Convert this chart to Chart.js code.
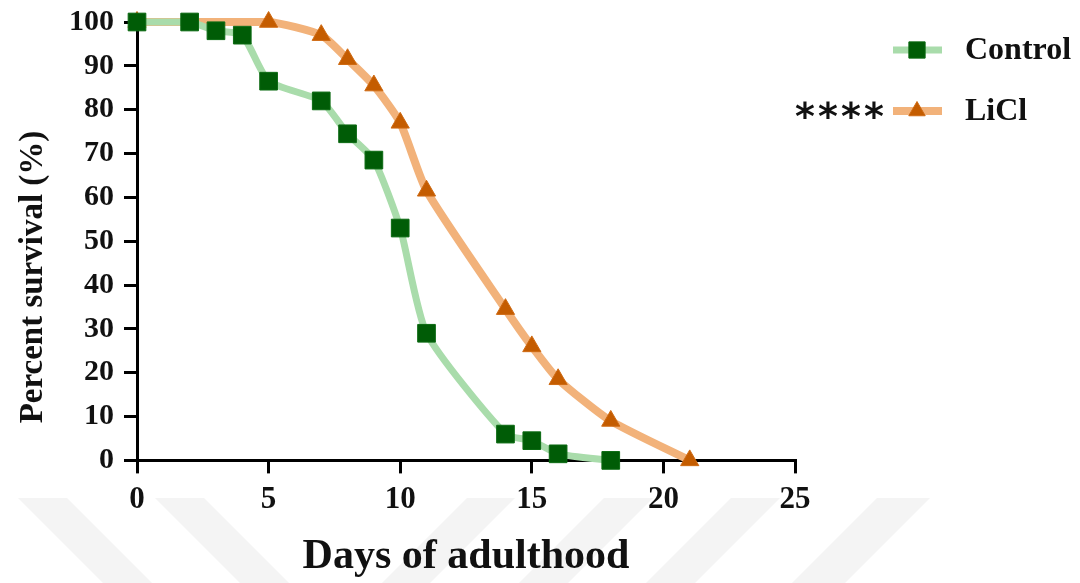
<!DOCTYPE html>
<html>
<head>
<meta charset="utf-8">
<script src="https://cdn.jsdelivr.net/npm/chart.js@4/dist/chart.umd.min.js"></script>
<style>
  html, body { margin: 0; padding: 0; background: #fff; }
  #wrap { width: 1080px; height: 583px; }
</style>
</head>
<body>
<div id="wrap"><canvas id="survival"></canvas></div>
<script>
// survival curves, days of adulthood vs percent alive
const controlDays = [0, 2, 3, 4, 5, 7, 8, 9, 10, 11, 14, 15, 16, 18];
const controlSurvival = [100, 100, 98, 97, 86.5, 82, 74.5, 68.5, 53, 29, 6, 4.5, 1.5, 0];

const liclDays = [0, 5, 7, 8, 9, 10, 11, 14, 15, 16, 18, 21];
const liclSurvival = [100, 100, 97, 91.5, 85.5, 77, 61.5, 34.5, 26, 18.5, 9, 0];

const xTicks = [0, 5, 10, 15, 20, 25];
const yTicks = [0, 10, 20, 30, 40, 50, 60, 70, 80, 90, 100];

const seriesNames = ["Control", "LiCl"];
const significance = "****";
const yTitle = "Percent survival (%)";

const toPoints = (xs, ys) => xs.map((x, i) => ({ x: x, y: ys[i] }));

const serif = "'Liberation Serif', 'Times New Roman', serif";

// faint grey stripes along the bottom edge
const backdrop = {
  id: "backdrop",
  beforeDraw(chart) {
    const ctx = chart.ctx;
    ctx.save();
    ctx.fillStyle = "#fff";
    ctx.fillRect(0, 0, chart.width, chart.height);
    ctx.fillStyle = "#f4f4f4";
    const top = 498, drop = chart.height - top;
    // [left, right] at the top edge, direction +1 leans right, -1 leans left
    const stripes = [
      [18, 67, 1], [155, 204, 1],
      [467, 515, -1], [604, 653, -1], [731, 780, -1], [877, 930, -1]
    ];
    stripes.forEach(s => {
      const shift = s[2] * drop;
      ctx.beginPath();
      ctx.moveTo(s[0], top);
      ctx.lineTo(s[1], top);
      ctx.lineTo(s[1] + shift, chart.height);
      ctx.lineTo(s[0] + shift, chart.height);
      ctx.closePath();
      ctx.fill();
    });
    ctx.restore();
  }
};

// y title sits a little below the middle of the axis
const sideTitle = {
  id: "sideTitle",
  afterDraw(chart) {
    const ctx = chart.ctx;
    ctx.save();
    ctx.translate(33, 277);
    ctx.rotate(-Math.PI / 2);
    ctx.font = "bold 33px " + serif;
    ctx.fillStyle = "#111";
    ctx.textAlign = "center";
    ctx.textBaseline = "middle";
    ctx.fillText(yTitle, 0, 0);
    ctx.restore();
  }
};

// legend on the right with the significance stars
const sideLegend = {
  id: "sideLegend",
  afterDraw(chart) {
    const ctx = chart.ctx;
    const rows = [50, 111];
    ctx.save();
    chart.data.datasets.forEach((ds, i) => {
      const y = rows[i];
      ctx.strokeStyle = ds.borderColor;
      ctx.lineWidth = ds.borderWidth;
      ctx.beginPath();
      ctx.moveTo(893, y);
      ctx.lineTo(942, y);
      ctx.stroke();
      ctx.fillStyle = ds.pointBackgroundColor;
      ctx.strokeStyle = ds.pointBorderColor;
      ctx.lineWidth = 1;
      Chart.helpers.drawPoint(ctx, {
        pointStyle: ds.pointStyle,
        radius: ds.pointRadius - 1,
        borderWidth: 1,
        rotation: 0
      }, 917, y);
      ctx.fillStyle = "#111";
      ctx.font = "bold 32px " + serif;
      ctx.textBaseline = "middle";
      ctx.textAlign = "left";
      ctx.fillText(ds.label, 965, y + 1);
    });
    ctx.font = "bold 38px 'DejaVu Sans', sans-serif";
    ctx.textAlign = "center";
    ctx.textBaseline = "middle";
    ctx.fillStyle = "#111";
    significance.split("").forEach((c, k) => {
      ctx.fillText(c, 805 + k * 23, rows[1] + 8);
    });
    ctx.restore();
  }
};

new Chart(document.getElementById("survival"), {
  type: "line",
  data: {
    datasets: [
      {
        label: seriesNames[0],
        data: toPoints(controlDays, controlSurvival),
        borderColor: "#a9dcab",
        borderWidth: 7,
        pointStyle: "rect",
        pointRadius: 12.5,
        pointBackgroundColor: "#005c06",
        pointBorderColor: "#0b6a12",
        pointBorderWidth: 1,
        tension: 0.2,
        clip: false
      },
      {
        label: seriesNames[1],
        data: toPoints(liclDays, liclSurvival),
        borderColor: "#f2b27a",
        borderWidth: 8,
        pointStyle: "triangle",
        pointRadius: 10.5,
        pointBackgroundColor: "#c45c00",
        pointBorderColor: "#cf6a12",
        pointBorderWidth: 1,
        tension: 0.2,
        clip: false
      }
    ]
  },
  options: {
    responsive: true,
    maintainAspectRatio: false,
    animation: false,
    layout: {
      padding: { left: 59, right: 285, top: 2, bottom: 1 }
    },
    plugins: {
      legend: { display: false },
      tooltip: { enabled: false }
    },
    scales: {
      x: {
        type: "linear",
        min: 0,
        max: 25,
        afterBuildTicks: axis => { axis.ticks = xTicks.map(v => ({ value: v })); },
        ticks: {
          color: "#111",
          padding: 8,
          maxRotation: 0,
          font: { family: serif, size: 31, weight: "bold" }
        },
        grid: {
          drawOnChartArea: false,
          drawTicks: true,
          tickLength: 13,
          color: "#000",
          lineWidth: 3
        },
        border: { display: true, color: "#000", width: 3 },
        title: {
          display: true,
          text: "Days of adulthood",
          color: "#111",
          padding: { top: 5, bottom: 0 },
          font: { family: serif, size: 42, weight: "bold" }
        }
      },
      y: {
        min: 0,
        max: 100,
        afterBuildTicks: axis => { axis.ticks = yTicks.map(v => ({ value: v })); },
        ticks: {
          color: "#111",
          padding: 10,
          font: { family: serif, size: 30, weight: "bold", lineHeight: 0.8 }
        },
        grid: {
          drawOnChartArea: false,
          drawTicks: true,
          tickLength: 13,
          color: "#000",
          lineWidth: 3
        },
        border: { display: true, color: "#000", width: 3 }
      }
    }
  },
  plugins: [backdrop, sideTitle, sideLegend]
});
</script>
</body>
</html>
